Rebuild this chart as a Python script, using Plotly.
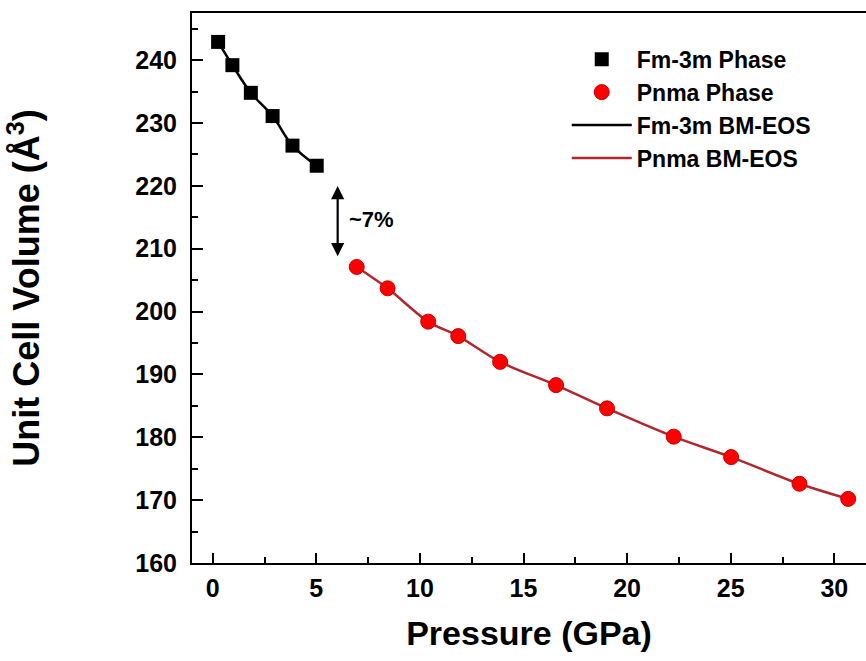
import plotly.graph_objects as go

# Fm-3m phase (black squares)
fm_p = [0.26, 0.95, 1.84, 2.89, 3.85, 5.02]
fm_v = [242.9, 239.2, 234.8, 231.1, 226.4, 223.2]

# Pnma phase (red circles)
pn_p = [6.95, 8.44, 10.4, 11.85, 13.87, 16.57, 19.03, 22.25, 25.02, 28.32, 30.67]
pn_v = [207.1, 203.7, 198.4, 196.1, 192.0, 188.3, 184.6, 180.1, 176.85, 172.6, 170.2]

x_ticks = [0, 5, 10, 15, 20, 25, 30]
y_ticks = [160, 170, 180, 190, 200, 210, 220, 230, 240]

FONT = "Liberation Sans, Arial, sans-serif"
RED_LINE = "#b0272d"

fig = go.Figure()

fig.add_trace(go.Scatter(x=fm_p, y=fm_v, mode="lines", name="Fm-3m BM-EOS",
                         line=dict(color="black", width=2.5, shape="spline"),
                         legendrank=3))
fig.add_trace(go.Scatter(x=pn_p, y=pn_v, mode="lines", name="Pnma BM-EOS",
                         line=dict(color=RED_LINE, width=2.5, shape="spline"),
                         legendrank=4))
fig.add_trace(go.Scatter(x=fm_p, y=fm_v, mode="markers", name="Fm-3m Phase",
                         marker=dict(symbol="square", size=14, color="black",
                                     line=dict(color="black", width=0)),
                         legendrank=1))
fig.add_trace(go.Scatter(x=pn_p, y=pn_v, mode="markers", name="Pnma Phase",
                         marker=dict(symbol="circle", size=15, color="#ff0000",
                                     line=dict(color="#c80000", width=1)),
                         legendrank=2))

# ~7% arrow
fig.add_annotation(x=6.03, y=208.8, ax=6.03, ay=220.2, xref="x", yref="y",
                   axref="x", ayref="y", text="", showarrow=True,
                   arrowhead=2, arrowside="end+start", arrowsize=1.2,
                   arrowwidth=2.2, arrowcolor="black")
fig.add_annotation(x=6.5, y=214.6, xref="x", yref="y", text="~7%",
                   showarrow=False, xanchor="left",
                   font=dict(family=FONT, size=22, color="black", weight="bold"))

fig.update_layout(
    width=866, height=661,
    margin=dict(l=192, r=0, t=13, b=98, autoexpand=False),
    plot_bgcolor="white", paper_bgcolor="white",
    font=dict(family=FONT, color="black"),
    showlegend=True,
    legend=dict(x=0.556, y=0.955, xanchor="left", yanchor="top",
                bgcolor="rgba(0,0,0,0)", itemwidth=60,
                font=dict(family=FONT, size=23, color="black", weight="bold"),
                tracegroupgap=0),
)

fig.update_xaxes(
    range=[-1, 31.53], tickmode="array", tickvals=x_ticks,
    ticktext=[str(t) for t in x_ticks], automargin=False,
    ticks="inside", ticklen=10, tickwidth=2, tickcolor="black",
    minor=dict(ticks="inside", ticklen=6, tickwidth=2, tickcolor="black", dtick=2.5, tick0=0),
    showline=True, linecolor="black", linewidth=2, mirror=True,
    showgrid=False, zeroline=False,
    tickfont=dict(family=FONT, size=25, color="black", weight="bold"),
    ticklabelstandoff=2,
    title=dict(text="Pressure (GPa)", standoff=20,
               font=dict(family=FONT, size=34, color="black", weight="bold")),
)
fig.update_yaxes(
    range=[160, 247.5], tickmode="array", tickvals=y_ticks,
    ticktext=[str(t) for t in y_ticks], automargin=False,
    ticks="inside", ticklen=11, tickwidth=2, tickcolor="black",
    minor=dict(ticks="inside", ticklen=6, tickwidth=2, tickcolor="black", dtick=5, tick0=0),
    showline=True, linecolor="black", linewidth=2, mirror=False,
    showgrid=False, zeroline=False,
    tickfont=dict(family=FONT, size=25, color="black", weight="bold"),
    ticklabelstandoff=8,
    title=dict(text="Unit Cell Volume (Å<sup>3</sup>)", standoff=85,
               font=dict(family=FONT, size=36, color="black", weight="bold")),
)

fig.write_html("out.html", config={"displayModeBar": False},
               post_script="document.body.style.margin='0';document.body.style.overflow='hidden';")
